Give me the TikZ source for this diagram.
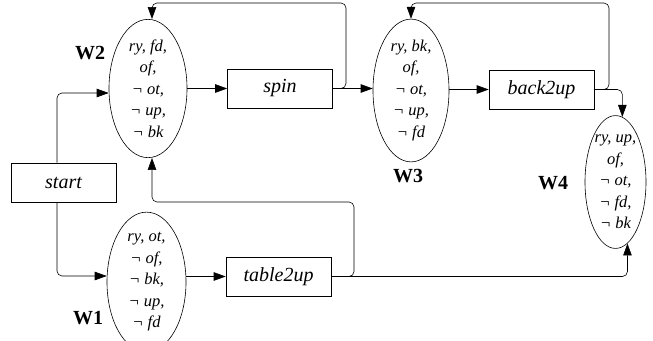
\documentclass[tikz,border=0pt]{standalone}
\usepackage{fontspec}
\setmainfont{LiberationSerif-Regular.ttf}[ItalicFont=LiberationSerif-Italic.ttf, BoldFont=LiberationSerif-Bold.ttf]
\usetikzlibrary{shapes.geometric,arrows.meta}

\tikzset{
  arr/.style={-{Triangle[length=12pt,width=8.5pt]}, line width=0.6pt, rounded corners=5pt},
  actbox/.style={draw, line width=0.6pt, minimum width=105pt, minimum height=39pt, inner sep=0pt,
    font=\fontsize{20}{24}\selectfont\itshape},
  world/.style={draw, ellipse, line width=0.6pt, inner sep=0pt, align=center,
    font=\fontsize{16.5}{21.5}\selectfont\itshape},
  wlab/.style={font=\fontsize{20}{24}\selectfont\bfseries}
}

\begin{document}
\begin{tikzpicture}[x=1pt, y=-1pt]
  \useasboundingbox (0,0) rectangle (653,340);

  	\node[actbox] (start) at (63.5, 182.5) {start};
  	\node[actbox] (spin) at (280, 88.5) {spin};
  	\node[actbox] (tab) at (278.5, 276.5) {table2up};
  	\node[actbox] (b2u) at (541.5, 89.5) {back2up};

  	\node[world, minimum width=78pt, minimum height=127pt] (w2) at (148, 88.5)
  	  {ry, fd,\\ of,\\ ¬ ot,\\ ¬ up,\\ ¬ bk};
  	\node[world, minimum width=79pt, minimum height=114pt] (w1) at (146.5, 282)
  	  {ry, ot,\\ ¬ of,\\ ¬ bk,\\ ¬ up,\\ ¬ fd};
  	\node[world, minimum width=76pt, minimum height=125pt] (w3) at (411, 90.5)
  	  {ry, bk,\\ of,\\ ¬ ot,\\ ¬ up,\\ ¬ fd};
  	\node[world, minimum width=61pt, minimum height=126pt] (w4) at (615.5, 182)
  	  {ry, up,\\ of,\\ ¬ ot,\\ ¬ fd,\\ ¬ bk};

  	\node[wlab] (w2lab) at (90, 53) {W2};
  	\node[wlab] (w1lab) at (88, 318) {W1};
  	\node[wlab] (w3lab) at (408, 176) {W3};
  	\node[wlab] (w4lab) at (553, 183) {W4};


  \draw[arr] ([xshift=-6.5pt]start.north) |- ([yshift=-4.5pt]w2.west);
  \draw[arr] ([xshift=-6.5pt]start.south) |- ([yshift=6pt]w1.west);
  \draw[arr] (w1.east |- tab.west) -- (tab.west);
  \draw[arr] (tab.east) -| (354, 202) -| ([xshift=4pt]w2.south);
  \draw[arr] (tab.east) -| (w4.-79);
  \draw[arr] (w2.east) -- (spin.west);
  \draw[arr] (spin.east) -- (spin.east -| w3.west);
  \draw[arr] (spin.east) -| (346, 3) -| ([xshift=4pt]w2.north);
  \draw[arr] (w3.east |- b2u.west) -- (b2u.west);
  \draw[arr] (b2u.east) -| (609, 3) -| (w3.north);
  \draw[arr] (b2u.east) -| (w4.84);
  \end{tikzpicture}
\end{document}
